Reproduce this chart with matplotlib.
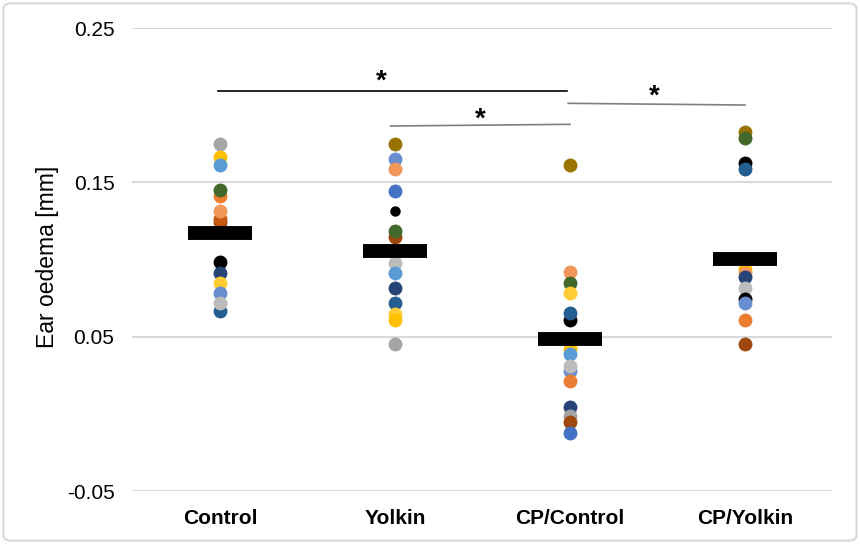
import matplotlib.pyplot as plt
import matplotlib as mpl
from matplotlib.patches import FancyBboxPatch

mpl.rcParams['font.family'] = ['Liberation Sans', 'DejaVu Sans']

# Excel-ish palette
blue = '#4472C4'
orange = '#ED7D31'
gray = '#A5A5A5'
gold = '#FFC000'
lblue = '#5B9BD5'
green = '#43682B'
navy = '#264478'
brown = '#9E480E'
brown2 = '#C55A11'
olive = '#997300'
steel = '#255E91'
cornflower = '#698ED0'
salmon = '#F1975A'
lgray = '#BCBCBC'
yellow = '#FFCD33'
black = '#000000'

groups = ['Control', 'Yolkin', 'CP/Control', 'CP/Yolkin']

control_vals = [0.1748, 0.1662, 0.1612, 0.1411, 0.1450, 0.1245, 0.1262, 0.1316,
                0.0986, 0.0914, 0.0845, 0.0785, 0.0668, 0.0716]
control_cols = [gray, gold, lblue, orange, green, brown, brown2, salmon,
                black, navy, yellow, cornflower, steel, lgray]

yolkin_vals = [0.1748, 0.1649, 0.1584, 0.1446, 0.1316, 0.1147, 0.1186, 0.0979,
               0.0914, 0.0813, 0.0720, 0.0650, 0.0608, 0.0452]
yolkin_cols = [olive, cornflower, salmon, blue, black, brown, green, lgray,
               lblue, navy, steel, yellow, gold, gray]

cpc_vals = [0.1612, 0.0921, 0.0849, 0.0781, 0.0608, 0.0655, 0.0418, 0.0387,
            0.0279, 0.0309, 0.0214, 0.0046, -0.0015, -0.0052, -0.0123]
cpc_cols = [olive, salmon, green, yellow, black, steel, gold, lblue,
            cornflower, lgray, orange, navy, gray, brown, blue]

cpy_vals = [0.1828, 0.1785, 0.1623, 0.1584, 0.0936, 0.0910, 0.0888, 0.0813,
            0.0742, 0.0716, 0.0608, 0.0450]
cpy_cols = [olive, green, black, steel, gold, salmon, navy, lgray,
            black, cornflower, orange, brown]

means = [0.1170, 0.1057, 0.0483, 0.1001]

# significance lines drawn by hand in the original
sig_x_start = [-0.013, 0.975, 1.99]
sig_x_end = [1.981, 2.0, 3.0]
sig_y_left = [0.2092, 0.1865, 0.2012]
sig_y_right = [0.2092, 0.1876, 0.2001]
sig_star_x = [0.92, 1.486, 2.48]
sig_star_y = [0.2150, 0.1905, 0.2055]
sig_cols = ['black', '#7F7F7F', '#7F7F7F']

all_vals = [control_vals, yolkin_vals, cpc_vals, cpy_vals]
all_cols = [control_cols, yolkin_cols, cpc_cols, cpy_cols]

fig = plt.figure(figsize=[8.6, 5.44], dpi=100)
ax = fig.add_axes([0.154, 0.0974, 0.814, 0.8511])

for i, (vals, cols) in enumerate(zip(all_vals, all_cols)):
    for v, c in zip(vals, cols):
        ms = 7.5 if (c == black and i == 1) else 10
        ax.plot(i, v, 'o', color=c, markersize=ms, markeredgewidth=0, zorder=3)

# mean bars
ax.plot(range(len(groups)), means, linestyle='none', marker='_', color='black',
        markersize=46, markeredgewidth=10, zorder=4)

for x0, x1, yl, yr, sx, sy, c in zip(sig_x_start, sig_x_end, sig_y_left, sig_y_right,
                                     sig_star_x, sig_star_y, sig_cols):
    ax.plot([x0, x1], [yl, yr], color=c, linewidth=1.2, zorder=2)
    ax.text(sx, sy, '*', ha='center', va='center', fontsize=20,
            fontweight='bold', color='black')

ax.set_xlim(-0.5, 3.5)
ax.set_ylim(-0.05, 0.25)
ax.set_yticks([-0.05, 0.05, 0.15, 0.25])
ax.set_yticklabels(['-0.05', '0.05', '0.15', '0.25'])
ax.set_xticks(range(len(groups)))
ax.set_xticklabels(groups, fontweight='bold')
ax.tick_params(axis='both', length=0, labelsize=15, colors='black')
ax.tick_params(axis='y', pad=13)
ax.tick_params(axis='x', pad=13)
ax.yaxis.grid(True, color='#D9D9D9', linewidth=1.5, zorder=0)
ax.set_axisbelow(True)
for s in ax.spines.values():
    s.set_visible(False)
ax.set_ylabel('Ear oedema [mm]', fontsize=16.5)
ax.yaxis.set_label_coords(-0.122, 0.506)
ax.yaxis.label.set_va('center')

border = FancyBboxPatch((0.004, 0.006), 0.992, 0.988, boxstyle='round,pad=0,rounding_size=0.01',
                        transform=fig.transFigure, fill=False, edgecolor='#D9D9D9', linewidth=1.5)
fig.patches.append(border)

plt.savefig('out.png', dpi=100)
